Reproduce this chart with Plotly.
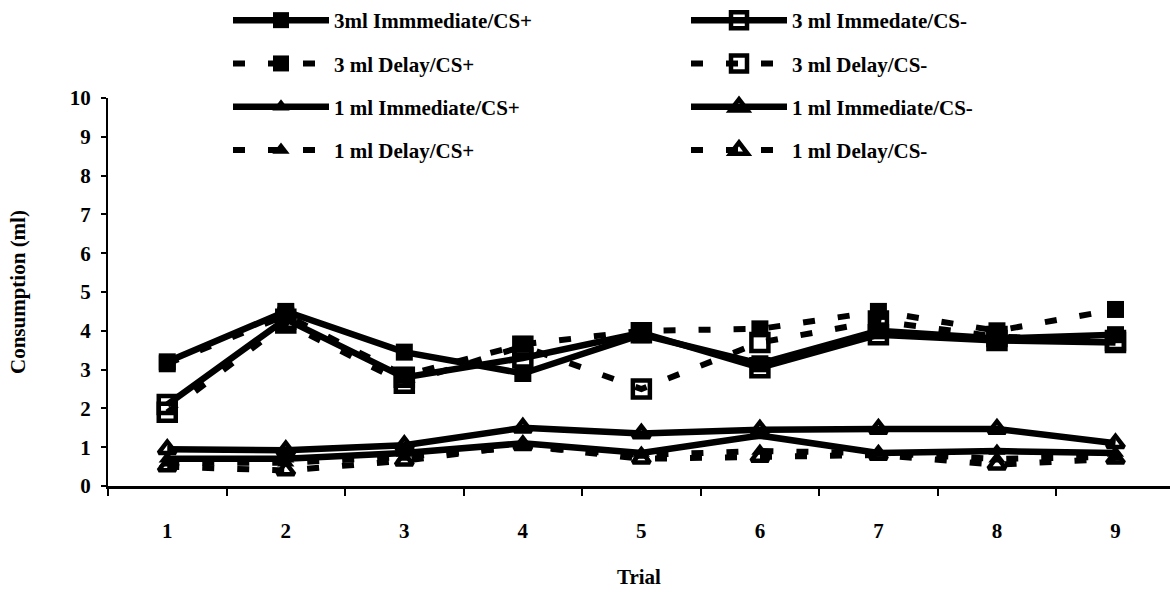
import plotly.graph_objects as go

# Trial labels along the x axis
trials = ["1", "2", "3", "4", "5", "6", "7", "8", "9"]

# Mean consumption (ml) per trial for each group
ml3_immediate_cs_plus = [3.2, 4.5, 3.45, 2.9, 3.9, 3.15, 4.0, 3.8, 3.9]
ml3_immediate_cs_minus = [2.1, 4.3, 2.8, 3.3, 3.95, 3.05, 3.9, 3.75, 3.7]
ml3_delay_cs_plus = [3.15, 4.4, 2.85, 3.65, 4.0, 4.05, 4.5, 4.0, 4.55]
ml3_delay_cs_minus = [1.9, 4.2, 2.65, 3.6, 2.5, 3.7, 4.25, 3.85, 3.75]

ml1_immediate_cs_plus = [0.7, 0.7, 0.85, 1.1, 0.85, 1.3, 0.85, 0.9, 0.85]
ml1_immediate_cs_minus = [0.95, 0.92, 1.05, 1.5, 1.35, 1.45, 1.47, 1.47, 1.1]
ml1_delay_cs_plus = [0.6, 0.6, 0.75, 1.0, 0.8, 0.9, 0.85, 0.7, 0.75]
ml1_delay_cs_minus = [0.5, 0.4, 0.65, 1.05, 0.7, 0.75, 0.8, 0.55, 0.7]

y_ticks = list(range(0, 11))

FONT = "Liberation Serif"
BLACK = "#000000"
SOLID_W = 6.5
DASH_W = 6
DASH = "12px,23px"

series = [
    # (name, values, dashed, symbol, legend)
    ("3ml Immmediate/CS+", ml3_immediate_cs_plus, False, "square", "legend"),
    ("3 ml Delay/CS+", ml3_delay_cs_plus, True, "square", "legend"),
    ("1 ml Immediate/CS+", ml1_immediate_cs_plus, False, "triangle-up", "legend"),
    ("1 ml Delay/CS+", ml1_delay_cs_plus, True, "triangle-up", "legend"),
    ("3 ml Immedate/CS-", ml3_immediate_cs_minus, False, "square-open", "legend2"),
    ("3 ml Delay/CS-", ml3_delay_cs_minus, True, "square-open", "legend2"),
    ("1 ml Immediate/CS-", ml1_immediate_cs_minus, False, "triangle-up-open", "legend2"),
    ("1 ml Delay/CS-", ml1_delay_cs_minus, True, "triangle-up-open", "legend2"),
]

fig = go.Figure()
for i, (name, vals, dashed, symbol, leg) in enumerate(series):
    is_square = symbol.startswith("square")
    fig.add_trace(
        go.Scatter(
            x=trials,
            y=vals,
            name=name,
            mode="lines+markers",
            legend=leg,
            legendgroup=f"g{i}",
            line=dict(
                color=BLACK,
                width=DASH_W if dashed else SOLID_W,
                dash=DASH if dashed else "solid",
            ),
            marker=dict(
                symbol=symbol,
                size=17 if is_square else 15,
                color=BLACK,
                line=dict(color=BLACK, width=4.5 if symbol.endswith("open") else 0),
            ),
        )
    )

legend_common = dict(
    xref="container",
    yref="container",
    yanchor="top",
    xanchor="left",
    orientation="v",
    itemwidth=96,
    tracegroupgap=13,
    bgcolor="rgba(0,0,0,0)",
    borderwidth=0,
    font=dict(family=FONT, size=21, color=BLACK, weight="bold"),
)

fig.update_layout(
    width=1170,
    height=592,
    margin=dict(l=108, r=0, t=98, b=106, autoexpand=False),
    paper_bgcolor="white",
    plot_bgcolor="white",
    font=dict(family=FONT, size=21, color=BLACK, weight="bold"),
    showlegend=True,
    legend=dict(legend_common, x=228 / 1170, y=1.0),
    legend2=dict(legend_common, x=686 / 1170, y=1.0),
    xaxis=dict(
        type="category",
        range=[-0.5, 8.46],
        tickson="boundaries",
        ticks="outside",
        ticklen=7,
        tickwidth=1.5,
        tickcolor=BLACK,
        showline=True,
        linecolor=BLACK,
        linewidth=2.5,
        showgrid=False,
        zeroline=False,
        tickangle=0,
        ticklabelstandoff=24,
        tickfont=dict(family=FONT, size=21, color=BLACK, weight="bold"),
        title=dict(
            text="Trial",
            font=dict(family=FONT, size=21, color=BLACK, weight="bold"),
            standoff=28,
        ),
    ),
    yaxis=dict(
        range=[0, 10],
        tickvals=y_ticks,
        ticks="outside",
        ticklen=5,
        tickwidth=1.5,
        tickcolor=BLACK,
        showline=True,
        linecolor=BLACK,
        linewidth=2,
        showgrid=False,
        zeroline=False,
        ticklabelstandoff=6,
        tickfont=dict(family=FONT, size=21, color=BLACK, weight="bold"),
    ),
    annotations=[
        dict(
            text="Consumption (ml)",
            xref="paper",
            yref="paper",
            x=-104 / 1062,
            y=0.5,
            xanchor="left",
            yanchor="middle",
            textangle=-90,
            showarrow=False,
            font=dict(family=FONT, size=21, color=BLACK, weight="bold"),
        )
    ],
)

fig.write_html("out.html")
